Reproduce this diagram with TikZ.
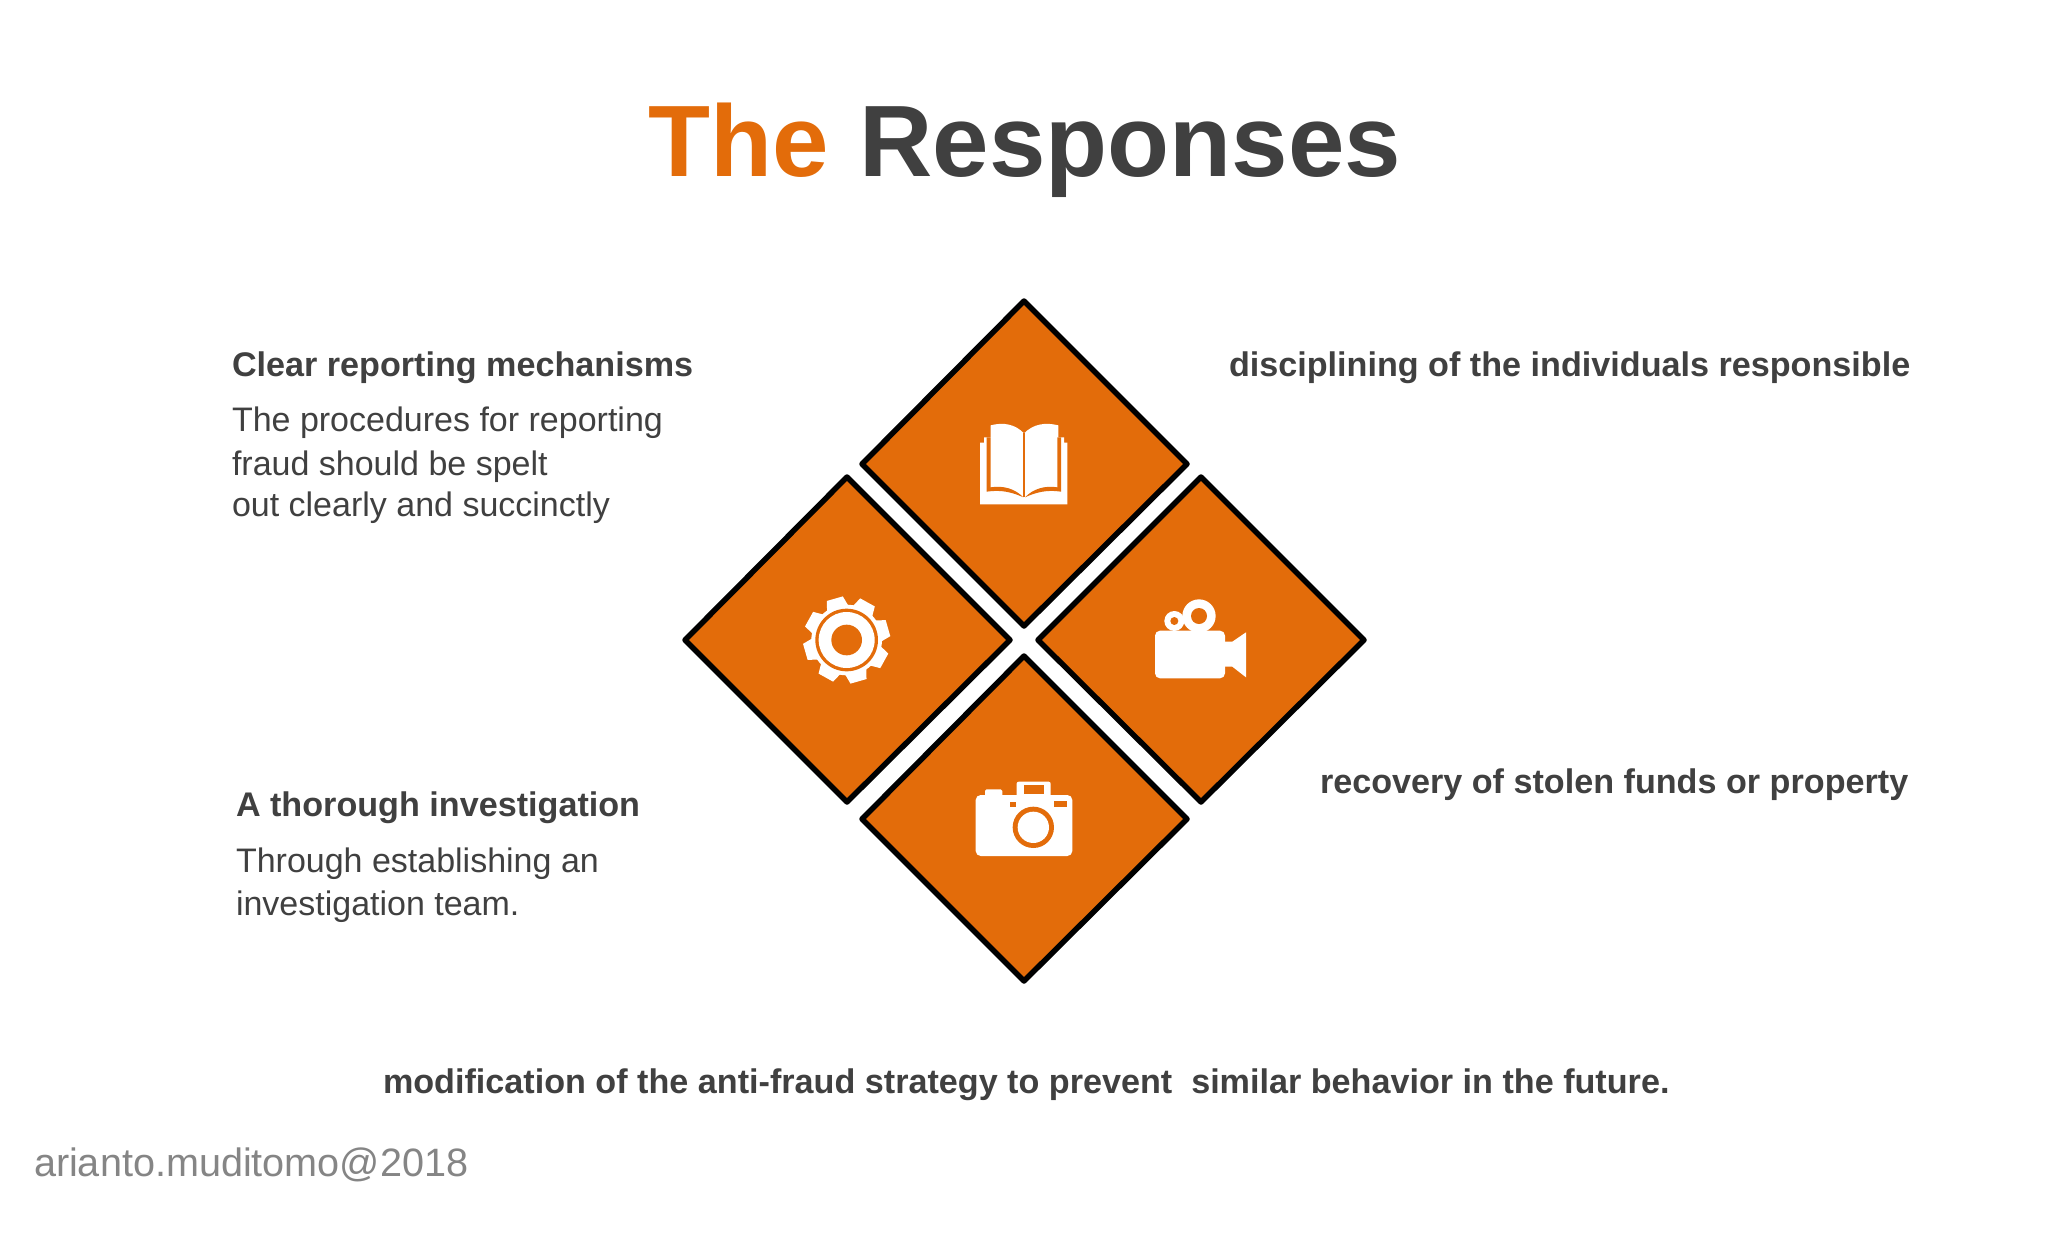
\documentclass[tikz,border=0pt]{standalone}
\usepackage{fontspec}
\setmainfont{Liberation Sans}
\definecolor{fillorange}{HTML}{E36C0A}
\definecolor{inkgray}{HTML}{404040}
\definecolor{markgray}{HTML}{858585}
\tikzset{
  tile/.style={fill=fillorange,draw=black,line width=5.5pt,line join=round},
  txt/.style={anchor=base west,inner sep=0pt,outer sep=0pt,text=inkgray},
  head/.style={txt,font=\fontsize{34.15}{40}\selectfont\bfseries},
  body/.style={txt,font=\fontsize{34}{40}\selectfont},
  iconw/.style={fill=white,draw=none},
  icono/.style={fill=fillorange,draw=none},
  zoomed/.style={x=0.3333pt,y=-0.3333pt}
}
\begin{document}
\begin{tikzpicture}[x=1pt,y=-1pt]
\useasboundingbox (0,0) rectangle (2048,1243);
\fill[white] (0,0) rectangle (2048,1243);
% tiles
\draw[tile] (1024,301) -- (1187,464) -- (1024,626) -- (862,464) -- cycle;
\draw[tile] (847,477) -- (1010,640) -- (847,802) -- (685,640) -- cycle;
\draw[tile] (1201,477) -- (1364,640) -- (1201,802) -- (1038,640) -- cycle;
\draw[tile] (1024,656) -- (1187,819) -- (1024,981) -- (862,819) -- cycle;
% book
\begin{scope}[shift={(960,410)},zoomed]
\fill[iconw] (60,98) -- (72,98) -- (72,82) -- (92,82) -- (92,46) .. controls (130,36) and (165,42) .. (192,70) .. controls (220,42) and (255,36) .. (295,46) -- (295,82) -- (312,82) -- (312,98) -- (322,98) -- (322,283) -- (60,283) -- cycle;
\fill[icono] (80,82) -- (92,82) -- (92,232) .. controls (130,226) and (165,236) .. (190,262) .. controls (160,248) and (125,238) .. (80,245) -- cycle;
\fill[icono] (303,82) -- (292,82) -- (292,232) .. controls (255,226) and (220,236) .. (195,262) .. controls (225,248) and (260,238) .. (303,245) -- cycle;
\fill[icono] (190,70) rectangle (195,262);
\end{scope}
% gear
\begin{scope}[shift={(790,585)},zoomed]
\fill[iconw] (170,165) circle (106);
\foreach \a in {0,45,...,315}{
  \fill[iconw,shift={(170,165)},rotate=\a+16] (-33,-98) -- (-25,-129) -- (25,-129) -- (33,-98) -- cycle;
}
\fill[icono] (170,165) circle (94);
\fill[iconw] (170,165) circle (84);
\fill[icono] (170,165) circle (46);
\end{scope}
% video camera
\begin{scope}[shift={(1145,590)},zoomed]
\fill[iconw,rounded corners=5pt] (30,122) rectangle (240,265);
\fill[iconw] (238,155) -- (262,155) -- (303,127) -- (303,262) -- (262,230) -- (238,230) -- cycle;
\fill[iconw] (162,78) circle (50);
\fill[icono] (162,78) circle (24);
\fill[iconw] (88,93) circle (30);
\fill[icono] (88,93) circle (12);
\end{scope}
% photo camera
\begin{scope}[shift={(960,770)},zoomed]
\fill[iconw,rounded corners=5pt] (47,75) rectangle (337,258);
\fill[iconw,rounded corners=1.5pt] (75,58) rectangle (127,85);
\fill[iconw,rounded corners=2pt] (170,35) rectangle (272,85);
\fill[icono] (192,45) rectangle (252,73);
\fill[icono] (150,97) rectangle (168,110);
\fill[icono] (282,92) rectangle (320,110);
\fill[icono] (220,172) circle (62);
\fill[iconw] (220,172) circle (47);
\end{scope}
% texts
\node[txt,font=\fontsize{101.5}{110}\selectfont\bfseries] (title) at (648,176) {\textcolor{fillorange}{The}\hspace{3pt} Responses};
\node[head] (h1) at (232,376) {Clear reporting mechanisms};
\node[body] (b1a) at (232,431) {The procedures for reporting};
\node[body] (b1b) at (232,475) {fraud should be spelt};
\node[body] (b1c) at (232,516) {out clearly and succinctly};
\node[head] (h2) at (236,816) {A thorough investigation};
\node[body] (b2a) at (236,872) {Through establishing an};
\node[body] (b2b) at (236,915) {investigation team.};
\node[head] (h3) at (1229,376) {disciplining of the individuals responsible};
\node[head] (h4) at (1320,793) {recovery of stolen funds or property};
\node[head] (h5) at (383,1093) {modification of the anti-fraud strategy to prevent\ \ similar behavior in the future.};
\node[txt,text=markgray,font=\fontsize{39.6}{46}\selectfont] (mark) at (34,1176) {arianto.muditomo@2018};
\end{tikzpicture}
\end{document}
